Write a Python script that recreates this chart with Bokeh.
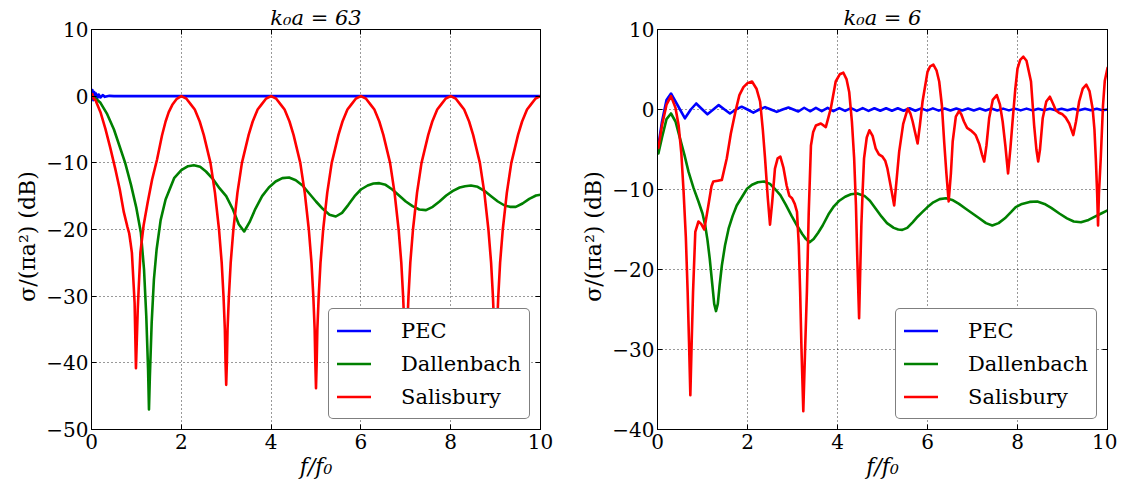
from bokeh.plotting import figure
from bokeh.models import Range1d, FixedTicker, LinearAxis, CustomJSTickFormatter
from bokeh.layouts import row
from bokeh.embed import file_html
from bokeh.resources import INLINE

# ---------------- data: left panel (k0a = 63) ----------------
left_title = "k\u2080a = 63"
left_xticks = [0, 2, 4, 6, 8, 10]
left_yticks = [10, 0, -10, -20, -30, -40, -50]

left_pec_x = [0.02, 0.04, 0.06, 0.08, 0.1, 0.13, 0.16, 0.2, 0.25, 0.3, 0.4, 0.5, 10.0]
left_pec_y = [0.9, -0.6, 0.6, -0.4, 0.4, -0.3, 0.25, -0.2, 0.15, -0.1, 0.05, 0.0, 0.0]

left_dal_x = [0.02, 0.1, 0.2, 0.35, 0.5, 0.62, 0.75, 0.88, 1.0, 1.1, 1.17, 1.22, 1.26, 1.28,
              1.30, 1.34, 1.39, 1.45, 1.54, 1.65, 1.84, 2.0, 2.15, 2.28, 2.42, 2.55, 2.7, 2.85,
              3.0, 3.15, 3.28, 3.4, 3.52, 3.65, 3.8, 3.95, 4.1, 4.25, 4.4, 4.55, 4.7, 4.85,
              5.0, 5.15, 5.3, 5.44, 5.58, 5.72, 5.86, 6.0, 6.15, 6.28, 6.41, 6.55, 6.7, 6.85,
              7.0, 7.15, 7.3, 7.45, 7.6, 7.75, 7.9, 8.05, 8.2, 8.32, 8.45, 8.6, 8.75, 8.9,
              9.05, 9.2, 9.32, 9.45, 9.6, 9.75, 9.9, 10.0]
left_dal_y = [0.0, -0.4, -1.0, -2.7, -5.0, -7.4, -10.0, -13.3, -16.8, -20.5, -26.0, -33.0, -41.0, -47.0,
              -42.0, -34.0, -27.5, -23.0, -18.6, -15.5, -12.3, -11.1, -10.5, -10.35, -10.6, -11.3, -12.4, -13.8,
              -15.0, -17.0, -19.2, -20.3, -18.9, -16.9, -15.0, -13.7, -12.8, -12.3, -12.2, -12.6, -13.4, -14.6,
              -15.8, -16.9, -17.8, -18.05, -17.5, -16.3, -15.0, -14.0, -13.4, -13.1, -13.05, -13.3, -14.0, -14.9,
              -15.8, -16.5, -17.0, -17.1, -16.6, -15.8, -14.9, -14.2, -13.7, -13.5, -13.4, -13.6, -14.2, -15.0,
              -15.8, -16.4, -16.6, -16.6, -16.1, -15.4, -14.9, -14.8]

left_sal_x = [0.02, 0.05, 0.09, 0.2, 0.31, 0.42, 0.53, 0.63, 0.72, 0.8, 0.84, 0.87, 0.9, 0.92, 0.96, 0.99,
              1.03, 1.05, 1.09, 1.16, 1.25, 1.35, 1.46, 1.57, 1.65, 1.72, 1.8, 1.9,
              2.0, 2.11, 2.22, 2.3, 2.41, 2.5, 2.65, 2.75, 2.84, 2.9, 2.94, 2.97, 2.985,
              3.0, 3.015, 3.03, 3.06, 3.1, 3.16, 3.25, 3.35, 3.5, 3.59, 3.7, 3.78, 3.89,
              4.0, 4.11, 4.22, 4.3, 4.41, 4.5, 4.65, 4.75, 4.84, 4.9, 4.94, 4.97, 4.985,
              5.0, 5.015, 5.03, 5.06, 5.1, 5.16, 5.25, 5.35, 5.5, 5.59, 5.7, 5.78, 5.89,
              6.0, 6.11, 6.22, 6.3, 6.41, 6.5, 6.65, 6.75, 6.84, 6.9, 6.94, 6.97, 6.985,
              7.0, 7.015, 7.03, 7.06, 7.1, 7.16, 7.25, 7.35, 7.5, 7.59, 7.7, 7.78, 7.89,
              8.0, 8.11, 8.22, 8.3, 8.41, 8.5, 8.65, 8.75, 8.84, 8.9, 8.94, 8.97, 8.985,
              9.0, 9.015, 9.03, 9.06, 9.1, 9.16, 9.25, 9.35, 9.5, 9.59, 9.7, 9.78, 9.89, 10.0]
left_sal_y = [0.3, -0.4, -0.6, -2.4, -4.9, -7.8, -10.9, -14.0, -17.4, -19.6, -20.6, -22.0, -23.5, -26.0, -31.0, -40.8,
              -32.0, -29.0, -23.4, -19.4, -16.0, -12.5, -9.5, -5.9, -3.8, -2.4, -1.3, -0.4,
              0.0, -0.35, -1.3, -2.0, -3.8, -5.8, -10.0, -14.5, -20.0, -25.0, -30.0, -35.0, -40.0,
              -43.3, -40.0, -35.0, -30.0, -25.0, -20.0, -14.5, -10.0, -5.8, -3.8, -2.0, -1.3, -0.35,
              0.0, -0.35, -1.3, -2.0, -3.8, -5.8, -10.0, -14.5, -20.0, -25.0, -30.0, -35.0, -40.0,
              -43.8, -40.0, -35.0, -30.0, -25.0, -20.0, -14.5, -10.0, -5.8, -3.8, -2.0, -1.3, -0.35,
              0.0, -0.35, -1.3, -2.0, -3.8, -5.8, -10.0, -14.5, -20.0, -25.0, -30.0, -35.0, -40.0,
              -44.5, -40.0, -35.0, -30.0, -25.0, -20.0, -14.5, -10.0, -5.8, -3.8, -2.0, -1.3, -0.35,
              0.0, -0.35, -1.3, -2.0, -3.8, -5.8, -10.0, -14.5, -20.0, -25.0, -30.0, -35.0, -40.0,
              -45.0, -40.0, -35.0, -30.0, -25.0, -20.0, -14.5, -10.0, -5.8, -3.8, -2.0, -1.3, -0.35, 0.0]

# ---------------- data: right panel (k0a = 6) ----------------
right_title = "k\u2080a = 6"
right_xticks = [0, 2, 4, 6, 8, 10]
right_yticks = [10, 0, -10, -20, -30, -40]

right_pec_x = [0.02, 0.1, 0.2, 0.3, 0.45, 0.61, 0.74, 0.86, 0.98, 1.11, 1.24, 1.36, 1.49, 1.61, 1.74, 1.87,
               2.0, 2.13, 2.26, 2.39, 2.52, 2.65, 2.78, 2.91, 3.02, 3.13, 3.26, 3.39, 3.52, 3.65, 3.78, 3.91,
               4.04, 4.17, 4.3, 4.43, 4.56, 4.69, 4.82, 4.95, 5.08, 5.21, 5.34, 5.47, 5.6, 5.73, 5.86, 5.99,
               6.12, 6.25, 6.38, 6.51, 6.64, 6.77, 6.9, 7.03, 7.16, 7.29, 7.42, 7.55, 7.68, 7.81, 7.94, 8.07,
               8.2, 8.33, 8.46, 8.59, 8.72, 8.85, 8.98, 9.11, 9.24, 9.37, 9.5, 9.63, 9.76, 9.89, 10.0]
right_pec_y = [-4.5, -1.5, 1.2, 2.0, 0.5, -1.1, 0.0, 0.75, 0.1, -0.6, 0.0, 0.55, 0.0, -0.5, 0.0, 0.35,
               0.0, -0.4, 0.0, 0.3, 0.0, -0.3, 0.0, 0.25, 0.0, -0.25, 0.22, -0.22, 0.2, -0.2, 0.2, -0.2,
               0.18, -0.18, 0.18, -0.18, 0.17, -0.17, 0.16, -0.16, 0.16, -0.16, 0.15, -0.15, 0.15, -0.15, 0.14, -0.14,
               0.14, -0.14, 0.13, -0.13, 0.13, -0.13, 0.12, -0.12, 0.12, -0.12, 0.12, -0.12, 0.11, -0.11, 0.11, -0.11,
               0.11, -0.11, 0.1, -0.1, 0.1, -0.1, 0.1, -0.1, 0.1, -0.1, 0.1, -0.1, 0.1, -0.1, 0.0]

right_dal_x = [0.02, 0.1, 0.2, 0.3, 0.4, 0.5, 0.6, 0.69, 0.8, 0.91, 1.0, 1.06, 1.11, 1.16, 1.22, 1.26,
               1.30, 1.34, 1.38, 1.43, 1.5, 1.58, 1.67, 1.76, 1.88, 1.99, 2.1, 2.23, 2.37, 2.5, 2.62,
               2.73, 2.85, 2.98, 3.1, 3.22, 3.3, 3.38, 3.47, 3.57, 3.67, 3.8, 3.92, 4.04, 4.17, 4.3,
               4.44, 4.6, 4.72, 4.85, 4.98, 5.1, 5.25, 5.35, 5.44, 5.55, 5.67, 5.78, 5.89, 6.0, 6.13,
               6.27, 6.41, 6.55, 6.7, 6.85, 7.0, 7.15, 7.3, 7.44, 7.58, 7.72, 7.86, 7.96, 8.1, 8.27,
               8.44, 8.6, 8.75, 8.93, 9.1, 9.25, 9.41, 9.58, 9.72, 9.86, 10.0]
right_dal_y = [-5.5, -3.5, -1.2, -0.5, -1.5, -3.6, -5.7, -7.8, -9.8, -11.5, -13.0, -14.5, -16.3, -18.6, -22.0, -24.3,
               -25.2, -24.3, -22.0, -19.5, -17.0, -14.9, -13.3, -12.0, -10.9, -9.9, -9.4, -9.1, -9.0, -9.3, -10.0,
               -10.7, -11.9, -13.3, -14.5, -15.6, -16.2, -16.6, -16.2, -15.4, -14.5, -13.1, -12.1, -11.4, -10.9, -10.6,
               -10.5, -10.8, -11.4, -12.4, -13.4, -14.2, -14.8, -15.0, -15.05, -14.8, -14.1, -13.4, -12.8, -12.2, -11.6,
               -11.2, -11.1, -11.3, -11.8, -12.4, -13.0, -13.6, -14.2, -14.5, -14.2, -13.6, -12.8, -12.2, -11.8, -11.55,
               -11.5, -11.8, -12.3, -13.0, -13.6, -14.0, -14.1, -13.8, -13.4, -13.0, -12.6]

right_sal_x = [0.02, 0.1, 0.2, 0.3, 0.4, 0.47, 0.53, 0.58, 0.63, 0.67, 0.7, 0.73, 0.76, 0.79, 0.84, 0.91,
               0.97, 1.04, 1.13, 1.2, 1.24, 1.34, 1.43, 1.54, 1.63, 1.73, 1.82, 1.91, 2.0, 2.1, 2.2,
               2.28, 2.34, 2.39, 2.45, 2.5, 2.55, 2.61, 2.67, 2.73, 2.8, 2.87, 2.93, 2.99, 3.05, 3.1,
               3.14, 3.17, 3.2, 3.24, 3.28, 3.32, 3.36, 3.41, 3.46, 3.52, 3.63, 3.74, 3.85, 3.96, 4.05,
               4.13, 4.2, 4.26, 4.32, 4.37, 4.41, 4.44, 4.48, 4.51, 4.53, 4.56, 4.59, 4.65, 4.71, 4.78,
               4.85, 4.92, 5.0, 5.06, 5.11, 5.19, 5.26, 5.31, 5.37, 5.46, 5.56, 5.62, 5.67, 5.73, 5.78,
               5.83, 5.89, 6.0, 6.06, 6.13, 6.2, 6.26, 6.32, 6.37, 6.42, 6.47, 6.52, 6.56, 6.63, 6.7,
               6.75, 6.81, 6.88, 6.96, 7.02, 7.07, 7.15, 7.21, 7.26, 7.31, 7.37, 7.45, 7.54, 7.61, 7.67,
               7.73, 7.79, 7.84, 7.89, 7.95, 8.0, 8.06, 8.13, 8.2, 8.3, 8.37, 8.42, 8.46, 8.5, 8.56,
               8.64, 8.72, 8.8, 8.85, 8.92, 9.0, 9.07, 9.15, 9.24, 9.3, 9.37, 9.45, 9.53, 9.6, 9.67,
               9.71, 9.74, 9.77, 9.79, 9.81, 9.85, 9.9, 9.94, 10.0]
right_sal_y = [-4.8, -2.0, 0.6, 1.67, 0.2, -2.0, -5.5, -10.3, -16.0, -22.8, -29.0, -35.7, -29.0, -22.8, -15.3, -14.0,
               -14.3, -15.0, -12.0, -9.6, -9.0, -8.9, -8.8, -6.1, -3.0, -0.3, 1.8, 2.8, 3.3, 3.5, 2.6,
               1.0, -2.5, -6.1, -11.0, -14.4, -11.5, -7.4, -6.1, -5.9, -7.3, -9.5, -10.8, -11.1, -11.8, -12.8,
               -17.0, -22.8, -30.0, -37.7, -30.0, -22.8, -13.0, -4.5, -2.8, -2.0, -1.75, -2.2, 0.1, 3.5, 4.4,
               4.6, 3.8, 2.2, -1.5, -6.1, -12.0, -18.6, -26.1, -19.0, -14.5, -10.0, -6.1, -3.5, -2.6, -3.3,
               -4.9, -5.6, -5.9, -6.4, -7.4, -9.8, -12.0, -9.0, -5.3, -1.8, 0.1, -0.5, -1.5, -3.0, -4.25,
               -2.0, 1.0, 4.7, 5.4, 5.6, 4.9, 3.5, 0.5, -4.0, -8.0, -11.5, -8.0, -4.0, -0.9, -0.2,
               -0.6, -1.5, -2.3, -2.6, -2.9, -3.2, -4.3, -5.6, -6.5, -4.5, -1.1, 1.2, 1.8, 0.6, -1.5,
               -4.5, -8.0, -5.0, -1.5, 2.5, 5.1, 6.2, 6.6, 6.1, 3.5, -2.0, -5.0, -6.5, -5.0, -1.1,
               1.0, 1.6, 0.6, -0.1, -0.4, -0.6, -1.0, -1.75, -3.2, -1.5, 1.0, 2.6, 3.1, 2.3, 0.1,
               -2.5, -6.1, -10.5, -14.5, -10.5, -6.1, 0.5, 3.6, 5.2]

series_names = ["PEC", "Dallenbach", "Salisbury"]
series_colors = ["#0000ff", "#008000", "#ff0000"]

FONT = "DejaVu Serif"
MINUS_FMT = "return tick < 0 ? '\u2212' + (-tick) : '' + tick;"


def make_fig(title, ymin, ymax, xticks, yticks, data, border_left, border_right, fw):
    p = figure(frame_width=fw, frame_height=400,
               x_range=Range1d(0, 10), y_range=Range1d(ymin, ymax),
               output_backend="svg", toolbar_location=None,
               min_border_left=border_left, min_border_right=border_right,
               min_border_top=29, min_border_bottom=50,
               background_fill_color="white", border_fill_color="white")
    p.title.text = title
    p.title.align = "center"
    p.title.text_font = FONT
    p.title.text_font_style = "italic"
    p.title.text_font_size = "21px"
    p.title.text_color = "black"
    p.title.standoff = 0
    p.outline_line_color = "black"
    p.outline_line_width = 1
    p.outline_line_alpha = 1

    for ax in (p.xaxis[0], p.yaxis[0]):
        ax.major_tick_in = 5
        ax.major_tick_out = 0
        ax.minor_tick_in = 0
        ax.minor_tick_out = 0
        ax.major_label_text_font = FONT
        ax.major_label_text_font_size = "20px"
        ax.major_label_text_color = "black"
        ax.axis_label_text_font = FONT
        ax.axis_label_text_font_size = "22px"
        ax.axis_label_text_color = "black"
        ax.axis_line_color = "black"
        ax.major_tick_line_color = "black"
        ax.formatter = CustomJSTickFormatter(code=MINUS_FMT)
    p.xaxis[0].ticker = FixedTicker(ticks=xticks)
    p.yaxis[0].ticker = FixedTicker(ticks=yticks)
    p.xaxis[0].axis_label = "f/f\u2080"
    p.xaxis[0].axis_label_text_font_style = "italic"
    p.xaxis[0].major_label_standoff = 4
    p.xaxis[0].axis_label_standoff = 2
    p.yaxis[0].axis_label = "\u03c3/(\u03c0a\u00b2)   (dB)"
    p.yaxis[0].axis_label_text_font_style = "normal"
    p.yaxis[0].major_label_standoff = 3
    p.yaxis[0].axis_label_standoff = 3

    right_ax = LinearAxis(ticker=FixedTicker(ticks=yticks),
                          formatter=CustomJSTickFormatter(code="return '';"),
                          major_tick_in=5, major_tick_out=0, minor_tick_in=0, minor_tick_out=0,
                          major_label_standoff=0, axis_line_color="black", major_tick_line_color="black")
    p.add_layout(right_ax, "right")
    top_ax = LinearAxis(ticker=FixedTicker(ticks=xticks),
                        formatter=CustomJSTickFormatter(code="return '';"),
                        major_tick_in=5, major_tick_out=0, minor_tick_in=0, minor_tick_out=0,
                        major_label_standoff=0, axis_line_color="black", major_tick_line_color="black")
    p.add_layout(top_ax, "above")

    p.grid.grid_line_color = "black"
    p.grid.grid_line_dash = "1 3"
    p.grid.grid_line_alpha = 0.8
    p.grid.grid_line_width = 1
    p.xgrid.ticker = FixedTicker(ticks=xticks)
    p.ygrid.ticker = FixedTicker(ticks=yticks)

    for (xs, ys), name, col in zip(data, series_names, series_colors):
        p.line(xs, ys, line_color=col, line_width=2.6, legend_label=name,
               line_join="round", line_cap="round")

    lg = p.legend[0]
    lg.location = "bottom_right"
    lg.margin = 10
    lg.padding = 8
    lg.spacing = 6
    lg.glyph_width = 34
    lg.glyph_height = 27
    lg.label_height = 27
    lg.label_standoff = 30
    lg.label_text_font = FONT
    lg.label_text_font_size = "21px"
    lg.label_text_color = "black"
    lg.border_line_color = "black"
    lg.border_line_width = 1
    lg.border_radius = 5
    lg.background_fill_color = "white"
    lg.background_fill_alpha = 1.0
    return p


p1 = make_fig(left_title, -50, 10, left_xticks, left_yticks,
              [(left_pec_x, left_pec_y), (left_dal_x, left_dal_y), (left_sal_x, left_sal_y)],
              91, 20, 449)
p2 = make_fig(right_title, -40, 10, right_xticks, right_yticks,
              [(right_pec_x, right_pec_y), (right_dal_x, right_dal_y), (right_sal_x, right_sal_y)],
              97, 10, 450)

layout = row(p1, p2)
open("out.html", "w").write(file_html(layout, INLINE))
